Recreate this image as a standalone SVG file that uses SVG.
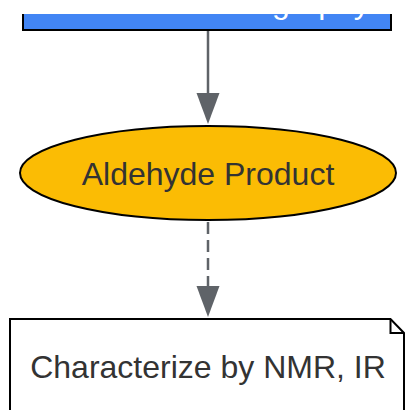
<svg xmlns="http://www.w3.org/2000/svg" width="406" height="410" viewBox="0 0 406 410">
  <defs>
    <style>
      .lbl { font-family: "Liberation Sans", Arial, sans-serif; font-size: 32px; text-anchor: middle; }
      .dark { fill: #333333; }
      .edge { stroke: #5f6368; stroke-width: 2.5; fill: none; }
      .head { fill: #5f6368; }
      .shape { stroke: #000000; stroke-width: 2; }
    </style>
    <clipPath id="clipTop">
      <rect x="0" y="14" width="406" height="40"/>
    </clipPath>
  </defs>
  <rect width="406" height="410" fill="#ffffff"/>

  <g id="connectors">
    <line class="edge" x1="208" y1="31" x2="208" y2="95"/>
    <polygon class="head" points="196.5,93 219.5,93 208,124"/>
    <line class="edge" x1="208" y1="222" x2="208" y2="287" stroke-dasharray="12 6"/>
    <polygon class="head" points="196.5,286 219.5,286 208,317"/>
  </g>

  <g id="node-flash" clip-path="url(#clipTop)">
    <rect class="shape" x="23" y="-40" width="368" height="70" fill="#4285F4"/>
    <text class="lbl" x="207" y="12.5" fill="#ffffff">Flash Chromatography</text>
  </g>

  <g id="node-aldehyde">
    <ellipse class="shape" cx="208" cy="173" rx="188" ry="47" fill="#FBBC04"/>
    <text class="lbl dark" x="208" y="185">Aldehyde Product</text>
  </g>

  <g id="node-characterize">
    <path class="shape" d="M10,319 H390.5 L404,333 V420 H10 Z" fill="#ffffff"/>
    <path class="shape" d="M390.5,319 V333 H404" fill="none"/>
    <text class="lbl dark" x="208" y="378">Characterize by NMR, IR</text>
  </g>
</svg>
